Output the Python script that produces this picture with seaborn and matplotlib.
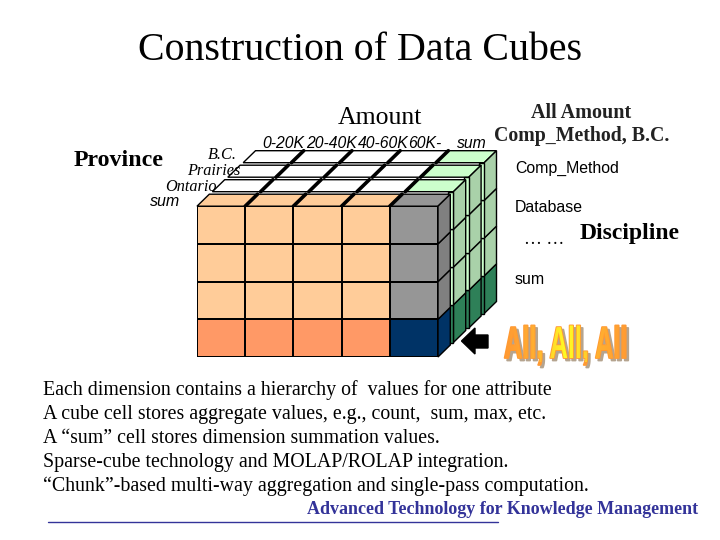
import numpy as np
import pandas as pd
import seaborn as sns
import matplotlib
matplotlib.use("Agg")
import matplotlib.pyplot as plt
from matplotlib.colors import ListedColormap, LinearSegmentedColormap, to_rgba
from matplotlib.font_manager import FontProperties
from matplotlib.patches import PathPatch
from matplotlib.textpath import TextPath
from matplotlib.transforms import Affine2D
import matplotlib.patheffects as pe

# cube contents
amount_bins = ["0-20K", "20-40K", "40-60K", "60K-", "sum"]
disciplines = ["Comp_Method", "Database", "… …", "sum"]
provinces = ["B.C.", "Prairies", "Ontario", "sum"]
# 0 = cell, 1 = sum along one side, 2 = sum of sums, 3 = sum along the other side
front_codes = [[0, 0, 0, 0, 1],
               [0, 0, 0, 0, 1],
               [0, 0, 0, 0, 1],
               [3, 3, 3, 3, 2]]
front_colors = ["#FFCC99", "#969696", "#003366", "#FF9966"]

bullets = ["Each dimension contains a hierarchy of  values for one attribute",
           "A cube cell stores aggregate values, e.g., count,  sum, max, etc.",
           "A “sum” cell stores dimension summation values.",
           "Sparse-cube technology and MOLAP/ROLAP integration.",
           "“Chunk”-based multi-way aggregation and single-pass computation."]

SERIF = "Liberation Serif"
SANS = "Liberation Sans"
NAVY = "#333399"

sns.set_theme(style="white")
fig = plt.figure(figsize=(7.2, 5.4), dpi=100)
ax = fig.add_axes([0, 0, 1, 1])
ax.set_xlim(0, 720)
ax.set_ylim(540, 0)
ax.axis("off")

# geometry of the cube, in pixels
x0, y0 = 197, 357
cw, rh = 48.2, 37.7
dx, dy = 15.4, -14.5     # shift from one layer to the next
fx, fy = 12.3, -12.0     # depth of one cell

def face(pts, color, z, lw=1.0):
    xs, ys = zip(*pts)
    ax.fill(xs, ys, facecolor=color, edgecolor="black", linewidth=lw, zorder=z)

n_cols = len(amount_bins)
n_rows = len(disciplines)
for k in range(len(provinces) - 1, -1, -1):
    z = 10 - k
    ox, oy = x0 + k * dx, y0 + k * dy
    top_y = oy - n_rows * rh
    # top faces
    for c in range(n_cols):
        last = c == n_cols - 1
        if k == 0:
            col = "#969696" if last else "#FFCC99"
        else:
            col = "#CCFFCC" if last else "white"
        lx = ox + c * cw
        face([(lx, top_y), (lx + cw, top_y), (lx + cw + fx, top_y + fy), (lx + fx, top_y + fy)], col, z)
        if c > 0:
            ax.plot([lx, lx + fx], [top_y, top_y + fy], color="black", lw=2.6, zorder=z + 0.1)
    # right hand faces and the slivers of the sum column behind them
    rx = ox + n_cols * cw
    for r in range(n_rows):
        by = oy - r * rh
        if r == 0:
            side = "#003366" if k == 0 else "#2E8058"
        else:
            side = "#808080" if k == 0 else "#A9D1A9"
        face([(rx, by), (rx + fx, by + fy), (rx + fx, by + fy - rh), (rx, by - rh)], side, z)
        if k > 0:
            face([(rx - 5, by), (rx, by), (rx, by - rh), (rx - 5, by - rh)], "#CCFFCC" if r else "#2E8058", z)

# front slab goes through a heatmap
ax_front = fig.add_axes([x0 / 720, 1 - y0 / 540, n_cols * cw / 720, n_rows * rh / 540], zorder=5)
front = pd.DataFrame(front_codes, index=disciplines, columns=amount_bins)
sns.heatmap(front, ax=ax_front, cmap=ListedColormap(front_colors), vmin=-0.5, vmax=3.5,
            cbar=False, linewidths=1.4, linecolor="black", xticklabels=False, yticklabels=False)
ax_front.set_xlabel("")
ax_front.set_ylabel("")

# arrow
ax.fill([461.5, 475, 475, 488, 488, 475, 475], [341, 328, 335, 335, 348, 348, 354], color="black", zorder=12)

# titles and labels
ax.text(360, 60, "Construction of Data Cubes", family=SERIF, fontsize=28.7, ha="center", va="baseline", color="black")
ax.text(338, 124, "Amount", family=SERIF, fontsize=18.5, va="baseline", color="black")
ax.text(74, 166, "Province", family=SERIF, fontsize=17.2, weight="bold", va="baseline", color="black")

for name, x, y in zip(provinces, [208, 187, 165], [159, 175, 191]):
    ax.text(x, y, name, family=SERIF, style="italic", fontsize=11.7, va="baseline", color="black", zorder=20)
ax.text(150, 206, provinces[3], family=SANS, style="italic", fontsize=11.5, va="baseline", color="black")

for name, x in zip(amount_bins, [262, 306, 358, 408, 457]):
    ax.text(x, 148, name, family=SANS, style="italic", fontsize=11.3, va="baseline", color="black")

ax.text(531, 118, "All Amount", family=SERIF, weight="bold", fontsize=14.5, va="baseline", color="#222222")
ax.text(494, 141, "Comp_Method, B.C.", family=SERIF, weight="bold", fontsize=14.3, va="baseline", color="#222222")
for name, y in zip([disciplines[0], disciplines[1], disciplines[3]], [173, 212, 284]):
    ax.text(515, y, name, family=SANS, fontsize=11.4, va="baseline", color="black")
ax.text(524, 244, disciplines[2], family=SERIF, fontsize=13, va="baseline", color="black")
ax.text(580, 239, "Discipline", family=SERIF, weight="bold", fontsize=17, va="baseline", color="black")

# All, All, All banner: tall narrow letters made from one real text
banner = "All, All, All"
bx, by = 504, 358
bsize = 22
sx, sy = 0.83, 1.47


class Squeeze(pe.AbstractPathEffect):
    # draws the glyphs narrower and taller about the text anchor, shadow first
    def draw_path(self, renderer, gc, tpath, affine, rgbFace=None):
        anchor_y = 540 - by
        squeeze = Affine2D().translate(-bx, -anchor_y).scale(sx, sy).translate(bx, anchor_y)
        for off, col in [((2.5, -2.5), "#B5A48F"), ((0, 0), "#FF9933")]:
            gc0 = renderer.new_gc()
            gc0.copy_properties(gc)
            gc0.set_foreground(col)
            gc0.set_linewidth(1.3)
            renderer.draw_path(gc0, tpath, affine + squeeze + Affine2D().translate(*off), to_rgba(col))
            gc0.restore()


ax.text(bx, by, banner, family=SANS, weight="bold", fontsize=bsize, va="baseline", color="#FF9933",
        zorder=15, path_effects=[Squeeze()])
grad = LinearSegmentedColormap.from_list("banner", ["#FF9933", "#FFB030", "#FFFF22", "#FFB030", "#FF9933"])
path = TextPath((0, 0), banner, prop=FontProperties(family=SANS, weight="bold", size=bsize * 100 / 72))
clip = PathPatch(path, transform=Affine2D().scale(sx, -sy).translate(bx, by) + ax.transData, fc="none", ec="none")
ax.add_patch(clip)
im = ax.imshow(np.linspace(0, 1, 128).reshape(1, -1), cmap=grad, extent=(504, 630, 362, 325), aspect="auto", zorder=16)
im.set_clip_path(clip)
ax.set_xlim(0, 720)
ax.set_ylim(540, 0)

# bullet lines
for i, line in enumerate(bullets):
    ax.text(43, 395 + i * 24, line, family=SERIF, fontsize=14.35, va="baseline", color="black")

# footer
ax.text(307, 514, "Advanced Technology for Knowledge Management", family=SERIF, weight="bold", fontsize=13, va="baseline", color=NAVY)
ax.plot([48, 498], [522, 522], color=NAVY, lw=1)

fig.savefig("out.png", dpi=100)
